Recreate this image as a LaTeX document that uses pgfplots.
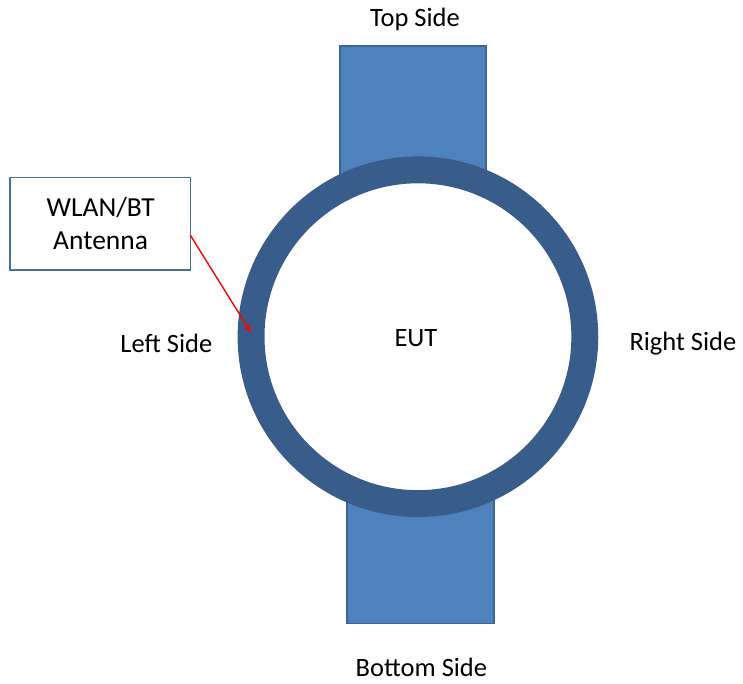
\documentclass[border=0pt]{standalone}
\usepackage{pgfplots}
\pgfplotsset{compat=1.18}
\usetikzlibrary{arrows.meta}
\usepackage{fontspec}
\setmainfont{Carlito}
\definecolor{rectfill}{HTML}{4F81BD}
\definecolor{rectdraw}{HTML}{3A6596}
\definecolor{ring}{HTML}{385D8A}
\definecolor{boxdraw}{HTML}{41719C}
\begin{document}
\begin{tikzpicture}
\begin{axis}[
  scale only axis, width=371.5pt, height=342.5pt,
  xmin=0, xmax=743, ymin=0, ymax=685,
  hide axis, clip=false, set layers=standard,
]
\path (axis cs:0,0) rectangle (axis cs:743,685);
% bands
\addplot[fill=rectfill, draw=rectdraw, line width=0.8pt] coordinates {(341,639) (488,639) (488,485) (341,485)} --cycle;
\addplot[fill=rectfill, draw=rectdraw, line width=0.8pt] coordinates {(348,205) (496,205) (496,59) (348,59)} --cycle;
% ring
\addplot[only marks, mark=*, mark size=83.75pt, mark options={line width=13.5pt, draw=ring, fill=white}] coordinates {(419.5,347)};
% label box
\addplot[on layer=axis foreground, fill=white, draw=boxdraw, line width=0.7pt] coordinates {(10,507) (191,507) (191,414) (10,414)} --cycle;
% arrow
\addplot[on layer=axis foreground, red, line width=0.7pt, -{Stealth[length=4.5pt,width=3.5pt]}] coordinates {(191,449) (252,351)};
\begin{pgfonlayer}{axis foreground}
\node[font=\fontsize{13.8}{16.5}\selectfont, align=center] at (axis cs:101,461) {WLAN/BT\\Antenna};
\node[font=\fontsize{13.3}{16}\selectfont] at (axis cs:416.5,665) {Top Side};
\node[font=\fontsize{13.3}{16}\selectfont] at (axis cs:167,340) {Left Side};
\node[font=\fontsize{13.3}{16}\selectfont] at (axis cs:417.5,346) {EUT};
\node[font=\fontsize{13.3}{16}\selectfont] at (axis cs:685.5,340) {Right Side};
\node[font=\fontsize{13.3}{16}\selectfont] at (axis cs:423,15) {Bottom Side};
\end{pgfonlayer}
\end{axis}
\end{tikzpicture}
\end{document}
